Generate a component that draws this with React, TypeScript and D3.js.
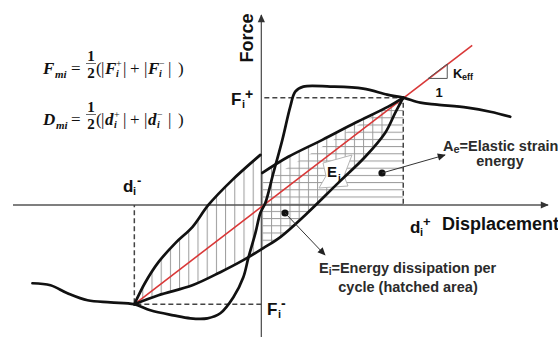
import React from 'react';
import * as d3 from 'd3';

type Pt = [number, number];

// d = displacement (d_i+ = 10), F = force (F_i+ = 100)
const peakPos: Pt = [10, 100];
const peakNeg: Pt = [-8.95, -92.5];

const backbone: Pt[] = [
  [-16.13, -72.9], [-14.86, -74.8], [-13.66, -82.2], [-12.25, -88.8], [-10.63, -90.7],
  [-8.95, -92.5], [-7.82, -98.1], [-6.2, -102.8], [-5.0, -105.6], [-3.8, -105.6],
  [-2.89, -100.9], [-1.97, -86.0], [-1.27, -67.3], [-0.92, -49.5], [-0.42, -26.2],
  [-0.07, -7.5], [0.28, 1.9], [0.85, 29.9], [1.48, 60.7], [2.04, 91.6], [2.39, 105.6],
  [2.96, 110.3], [4.86, 110.3], [7.18, 108.4], [8.87, 102.8], [10, 100],
  [11.2, 95.3], [12.39, 93.5], [14.51, 90.7], [16.13, 86.9], [17.54, 82.2],
];

const loopUpperLeft: Pt[] = [
  [-8.95, -92.5], [-8.17, -72.0], [-7.25, -53.3], [-6.06, -35.5], [-4.86, -20.6],
  [-3.73, 0], [-2.04, 23.4], [-0.07, 46.7],
];

const loopUpperRight: Pt[] = [
  [0.07, 29.9], [1.9, 44.9], [4.3, 60.7], [6.62, 76.6], [8.94, 91.6], [10, 100],
];

const loopLower: Pt[] = [
  [-8.95, -92.5], [-7.25, -84.1], [-4.86, -74.8], [-2.89, -62.6], [-1.27, -51.4],
  [0.14, -40.2], [1.34, -29.9], [3.1, -9.3], [5.42, 20.6], [7.32, 44.9],
  [8.73, 67.3], [9.44, 86.0], [10, 100],
];

const secant: Pt[] = [peakNeg, [14.86, 148.6]];
const keffTriangle: Pt[] = [[11.76, 117.9], [13.1, 117.9], [13.1, 131.4]];
const elasticArea: Pt[] = [
  [0.07, 20.6], [10, 100], [10, 0], [3.52, 0], [3.1, -9.3], [1.34, -29.9], [0.07, -40.9],
];

const xDomain = [-17.5, 20.2];
const yDomain = [-123, 177];

const W = 558;
const H = 337;
const sans = "'Liberation Sans', Arial, sans-serif";
const serif = "'Liberation Serif', 'DejaVu Serif', serif";

const xs = d3.scaleLinear().domain(xDomain).range([13, 548]);
const ys = d3.scaleLinear().domain(yDomain).range([337, 15]);

const smooth = d3.line<Pt>().x(d => xs(d[0])).y(d => ys(d[1])).curve(d3.curveCatmullRom.alpha(0.5));
const straight = d3.line<Pt>().x(d => xs(d[0])).y(d => ys(d[1]));

function Formula({ y, name, v }: { y: number; name: string; v: string }) {
  const vw = v === 'F' ? 11 : 9;
  return (
    <g fontFamily={serif} fill="#111">
      <text x={43} y={y} fontSize={17} fontStyle="italic" fontWeight="bold">{name}</text>
      <text x={name === 'D' ? 56 : 55} y={y + 4} fontSize={11} fontStyle="italic" fontWeight="bold">mi</text>
      <text x={71} y={y} fontSize={17}>=</text>
      <text x={91} y={y - 13} fontSize={15} fontWeight="bold" textAnchor="middle">1</text>
      <line x1={86} x2={96} y1={y - 10.5} y2={y - 10.5} stroke="#444" strokeWidth={0.8} />
      <text x={91} y={y + 4} fontSize={15} fontWeight="bold" textAnchor="middle">2</text>
      <text x={96} y={y} fontSize={17}>(</text>
      <text x={101} y={y} fontSize={17}>|</text>
      <text x={105} y={y} fontSize={17} fontStyle="italic" fontWeight="bold">{v}</text>
      <text x={105 + vw} y={y - 7} fontSize={10}>+</text>
      <text x={105 + vw} y={y + 3} fontSize={10} fontStyle="italic" fontWeight="bold">i</text>
      <text x={123} y={y} fontSize={17}>|</text>
      <text x={130} y={y} fontSize={17}>+</text>
      <text x={144} y={y} fontSize={17}>|</text>
      <text x={148} y={y} fontSize={17} fontStyle="italic" fontWeight="bold">{v}</text>
      <text x={148 + vw} y={y - 7} fontSize={10}>−</text>
      <text x={148 + vw} y={y + 3} fontSize={10} fontStyle="italic" fontWeight="bold">i</text>
      <text x={168} y={y} fontSize={17}>|</text>
      <text x={178} y={y} fontSize={17}>)</text>
    </g>
  );
}

export default function App() {
  const x0 = xs(0);
  const y0 = ys(0);
  const [xMin, xMax] = xs.range();
  const [yBot, yTop] = ys.range();

  const loopArea =
    smooth(loopLower)! +
    smooth([...loopUpperRight].reverse())!.replace(/^M/, 'L') +
    smooth([...loopUpperLeft].reverse())!.replace(/^M/, 'L') +
    'Z';

  const dash = { stroke: '#444', strokeWidth: 1.5, strokeDasharray: '5,3', fill: 'none' };
  const curve = { stroke: '#111', strokeWidth: 2.7, fill: 'none', strokeLinejoin: 'round' as const, strokeLinecap: 'round' as const };

  return (
    <svg width={W} height={H} style={{ position: 'absolute', left: 0, top: 0, background: '#fff' }}>
      <defs>
        <pattern id="vhatch" patternUnits="userSpaceOnUse" x={4.3} y={0} width={9.2} height={10}>
          <line x1={0.5} x2={0.5} y1={0} y2={10} stroke="#9a9a9a" strokeWidth={1} />
        </pattern>
        <pattern id="hhatch" patternUnits="userSpaceOnUse" x={0} y={2.1} width={10} height={7.2}>
          <line x1={0} x2={10} y1={0.5} y2={0.5} stroke="#9a9a9a" strokeWidth={1} />
        </pattern>
        <marker id="axArrow" viewBox="0 0 10 10" refX={9} refY={5} markerWidth={10} markerHeight={8}
          markerUnits="userSpaceOnUse" orient="auto">
          <path d="M0,0.5 L10,5 L0,9.5 z" fill="#333" />
        </marker>
        <marker id="noteArrow" viewBox="0 0 10 10" refX={9} refY={5} markerWidth={9} markerHeight={8}
          markerUnits="userSpaceOnUse" orient="auto">
          <path d="M0,0.5 L10,5 L0,9.5 z" fill="#222" />
        </marker>
      </defs>

      {/* hatched areas */}
      <path d={loopArea} fill="url(#vhatch)" />
      <path d={straight(elasticArea)! + 'Z'} fill="url(#hhatch)" />

      {/* axes */}
      <line x1={xMin} x2={xMax} y1={y0} y2={y0} stroke="#555" strokeWidth={1.3} markerEnd="url(#axArrow)" />
      <line x1={x0} x2={x0} y1={yBot} y2={yTop} stroke="#555" strokeWidth={1.3} markerEnd="url(#axArrow)" />

      {/* peak guides */}
      <path d={`M${x0 + 3},${ys(peakPos[1])}H${xs(peakPos[0])}V${y0}`} {...dash} />
      <path d={`M${x0},${ys(peakNeg[1])}H${xs(peakNeg[0])}V${y0}`} {...dash} />

      {/* E_i box */}
      <polygon points="323,163 352,155 344,176 348,186 319,188 326,176" fill="#fff" stroke="#b5b5b5" strokeWidth={1} />
      <text x={327} y={177} fontFamily={sans} fontWeight="bold" fontSize={15} fill="#111">E</text>
      <text x={338} y={182} fontFamily={sans} fontWeight="bold" fontSize={10} fill="#111">i</text>

      {/* secant stiffness */}
      <path d={straight(secant)!} stroke="#d93838" strokeWidth={1.6} fill="none" />
      <path d={straight(keffTriangle)! + 'Z'} stroke="#555" strokeWidth={1} fill="none" />

      {/* curves */}
      <path d={smooth(backbone)!} {...curve} />
      <path d={smooth(loopUpperLeft)!} {...curve} />
      <path d={smooth(loopUpperRight)!} {...curve} />
      <path d={smooth(loopLower)!} {...curve} />

      {/* annotation pointers */}
      <circle cx={382} cy={173} r={3.6} fill="#111" />
      <line x1={382} y1={173} x2={445} y2={155} stroke="#333" strokeWidth={1} markerEnd="url(#noteArrow)" />
      <circle cx={285} cy={213} r={3.6} fill="#111" />
      <line x1={285} y1={213} x2={325} y2={255} stroke="#333" strokeWidth={1} markerEnd="url(#noteArrow)" />

      {/* formulas */}
      <Formula y={74} name="F" v="F" />
      <Formula y={125} name="D" v="d" />

      <g fontFamily={sans} fontWeight="bold" fill="#111">
        <text transform={`translate(253,38) rotate(-90)`} fontSize={18} textAnchor="middle">Force</text>
        <text x={442} y={230} fontSize={18}>Displacement</text>

        <text x={231} y={105} fontSize={17}>F</text>
        <text x={242} y={108} fontSize={11}>i</text>
        <text x={245} y={99} fontSize={14}>+</text>

        <text x={267} y={315} fontSize={17}>F</text>
        <text x={278} y={318} fontSize={11}>i</text>
        <text x={281} y={308} fontSize={14}>-</text>

        <text x={123} y={192} fontSize={17}>d</text>
        <text x={133} y={195} fontSize={11}>i</text>
        <text x={137} y={185} fontSize={13}>-</text>

        <text x={410} y={233} fontSize={17}>d</text>
        <text x={420} y={236} fontSize={11}>i</text>
        <text x={423} y={226} fontSize={13}>+</text>

        <text x={453} y={78} fontSize={13}>K</text>
        <text x={462} y={80} fontSize={9}>eff</text>
        <text x={439} y={97} fontSize={13} textAnchor="middle">1</text>
      </g>

      <g fontFamily={sans} fontWeight="bold" fill="#2b2b2b" fontSize={14.5}>
        <text x={443} y={151}>A<tspan fontSize={11} dy={2}>e</tspan><tspan dy={-2}>=Elastic strain</tspan></text>
        <text x={500} y={166} textAnchor="middle">energy</text>
        <text x={319} y={273}>E<tspan fontSize={10} dy={2}>i</tspan><tspan dy={-2}>=Energy dissipation per</tspan></text>
        <text x={408} y={292} textAnchor="middle">cycle (hatched area)</text>
      </g>
    </svg>
  );
}
